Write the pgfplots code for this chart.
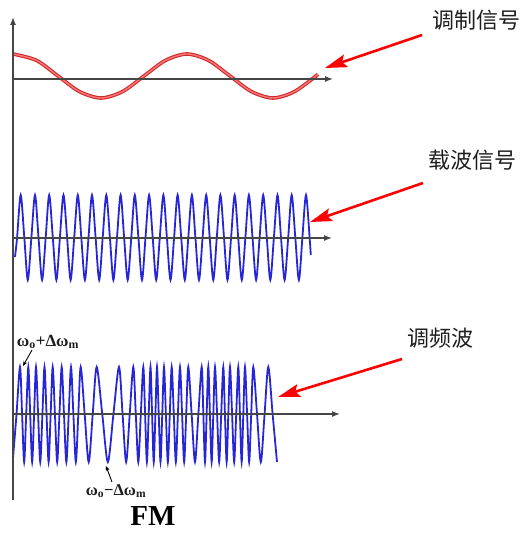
\documentclass[border=0pt]{standalone}
\usepackage{fontspec}
\setmainfont{Liberation Serif}
\newfontfamily\cjk{Noto Sans CJK SC}
\usepackage{pgfplots}
\pgfplotsset{compat=1.18}
\usetikzlibrary{arrows.meta}
\definecolor{wave}{RGB}{38,38,215}
\definecolor{axgray}{RGB}{70,70,70}
\definecolor{txt}{RGB}{30,30,30}
\definecolor{redline}{RGB}{205,40,40}
\definecolor{redin}{RGB}{255,120,120}
\begin{document}
\begin{tikzpicture}
\path[use as bounding box] (0,0) rectangle (532pt,533pt);
\begin{axis}[at={(0,0)}, anchor=south west, scale only axis,
  width=532pt, height=533pt, xmin=0, xmax=532, ymin=0, ymax=533,
  hide axis, clip=false]
% modulating signal
\addplot[smooth, draw=redline, line width=1.1pt, double=redin, double distance=1.4pt] coordinates {
(13,479) (36.5,472.6) (58,457) (79.5,441.4) (101,435) (122.5,441.4) (144,457)
(165.5,472.6) (187,479) (208.5,472.6) (230,457) (251.5,441.4) (273,435)
(294.5,441.4) (318,458.6)};
% carrier
\addplot[smooth, draw=wave, line width=1.8pt] coordinates {
(15,276) (17.1,295.5) (20.7,338) (24.3,295.5) (27.8,253)
(31.4,295.5) (35.0,338) (38.5,295.5) (42.1,253)
(45.7,295.5) (49.2,338) (52.8,295.5) (56.4,253)
(59.9,295.5) (63.5,338) (67.1,295.5) (70.6,253)
(74.2,295.5) (77.8,338) (81.3,295.5) (84.9,253)
(88.5,295.5) (92.0,338) (95.6,295.5) (99.2,253)
(102.7,295.5) (106.3,338) (109.9,295.5) (113.4,253)
(117.0,295.5) (120.6,338) (124.1,295.5) (127.7,253)
(131.3,295.5) (134.8,338) (138.4,295.5) (142.0,253)
(145.5,295.5) (149.1,338) (152.7,295.5) (156.2,253)
(159.8,295.5) (163.4,338) (166.9,295.5) (170.5,253)
(174.1,295.5) (177.6,338) (181.2,295.5) (184.8,253)
(188.3,295.5) (191.9,338) (195.4,295.5) (199.0,253)
(202.6,295.5) (206.2,338) (209.7,295.5) (213.3,253)
(216.8,295.5) (220.4,338) (224.0,295.5) (227.5,253)
(231.1,295.5) (234.7,338) (238.2,295.5) (241.8,253)
(245.4,295.5) (248.9,338) (252.5,295.5) (256.1,253)
(259.6,295.5) (263.2,338) (266.8,295.5) (270.3,253)
(273.9,295.5) (277.5,338) (281.0,295.5) (284.6,253)
(288.2,295.5) (291.7,338) (295.3,295.5) (298.9,253)
(302.4,295.5) (306.0,338) (309.6,295.5) (310.8,278)};
% FM wave
\addplot[smooth, draw=wave, line width=1.8pt] coordinates {
(13,75)
(16.5,118.5) (20,166) (22.1,118.5) (24.15,71)
(26.2,118.5) (28.3,166) (30.2,118.5) (32.15,71)
(34.1,118.5) (36,166) (38.1,118.5) (40.25,71)
(42.4,118.5) (44.5,166) (46.55,118.5) (48.6,71)
(50.65,118.5) (52.7,166) (54.95,118.5) (57.2,71)
(59.45,118.5) (61.7,166) (64.0,118.5) (66.35,71)
(68.7,118.5) (71,166) (73.4,118.5) (75.85,71)
(78.3,118.5) (80.7,166) (84.7,118.5) (88.7,71)
(92.7,118.5) (96.7,166) (102.3,118.5) (107.85,71)
(113.4,118.5) (119,166) (122.6,118.5) (126.15,71)
(129.7,118.5) (133.3,166) (135.8,118.5) (138.3,71)
(140.8,118.5) (143.3,166) (145.1,118.5) (146.9,71)
(148.7,118.5) (150.5,166) (152.1,118.5) (153.75,71)
(155.4,118.5) (157,166) (158.75,118.5) (160.5,71)
(162.25,118.5) (164,166) (165.9,118.5) (167.85,71)
(169.8,118.5) (171.7,166) (173.8,118.5) (175.85,71)
(177.9,118.5) (180,166) (182.1,118.5) (184.15,71)
(186.2,118.5) (188.3,166) (191.65,118.5) (195,71)
(198.35,118.5) (201.7,166) (203.35,118.5) (205,71)
(206.65,118.5) (208.3,166) (209.95,118.5) (211.65,71)
(213.3,118.5) (215,166) (217.1,118.5) (219.15,71)
(221.2,118.5) (223.3,166) (224.95,118.5) (226.65,71)
(228.3,118.5) (230,166) (232.1,118.5) (234.15,71)
(236.2,118.5) (238.3,166) (239.95,118.5) (241.65,71)
(243.3,118.5) (245,166) (247.1,118.5) (249.15,71)
(251.2,118.5) (253.3,166) (257.05,118.5) (260.8,71)
(264.55,118.5) (268.3,166) (272.65,118.5) (277,71)};
% axes
\draw[axgray, line width=1.3pt, -{Latex[length=8pt,width=6pt]}] (13,33) -- (13,516);
\draw[axgray, line width=1.3pt, -{Latex[length=8pt,width=6pt]}] (13,454) -- (333,454);
\draw[axgray, line width=1.3pt, -{Latex[length=8pt,width=6pt]}] (13,295) -- (332,295);
\draw[axgray, line width=1.3pt, -{Latex[length=8pt,width=6pt]}] (13,119) -- (340,119);
% red pointer arrows
\draw[red, line width=2.6pt, -{Stealth[length=22pt,width=13pt,inset=4pt]}] (422,498) -- (325,465);
\draw[red, line width=2.6pt, -{Stealth[length=22pt,width=13pt,inset=4pt]}] (423,350) -- (310,311);
\draw[red, line width=2.6pt, -{Stealth[length=22pt,width=13pt,inset=4pt]}] (402,174) -- (278,136);
% labels
\node[text=txt, font=\cjk\fontsize{22}{24}\selectfont] at (476,513) {调制信号};
\node[text=txt, font=\cjk\fontsize{22}{24}\selectfont] at (472,373) {载波信号};
\node[text=txt, font=\cjk\fontsize{22}{24}\selectfont] at (440,195) {调频波};
\node[text=txt, font=\bfseries\fontsize{17}{19}\selectfont] at (48,191) {ω\textsubscript{o}+Δω\textsubscript{m}};
\node[text=txt, font=\bfseries\fontsize{16.5}{18}\selectfont, inner sep=1pt] at (116,42) {ω\textsubscript{o}−Δω\textsubscript{m}};
\node[text=black, font=\bfseries\fontsize{29}{31}\selectfont, inner sep=0pt, anchor=base] at (153,7) {FM};
\draw[black, line width=0.9pt, -{Stealth[length=5pt,width=4pt]}] (32,183) -- (23,167);
\draw[black, line width=0.9pt, -{Stealth[length=5pt,width=4pt]}] (112,51) -- (106,67);
\end{axis}
\end{tikzpicture}
\end{document}
